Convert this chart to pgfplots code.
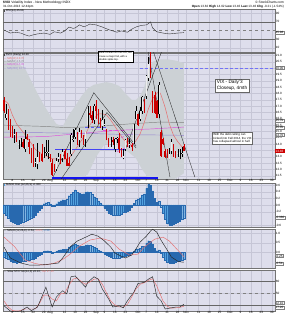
\documentclass[border=0pt]{standalone}
\usepackage{pgfplots}
\pgfplotsset{compat=1.18}
\usepackage{pgfplotstable}
\usepackage{fontspec}
\setmainfont{Liberation Sans}
\definecolor{bgc}{RGB}{222,222,236}
\definecolor{gridc}{RGB}{198,198,214}
\definecolor{bbc}{RGB}{204,209,213}
\definecolor{histc}{RGB}{82,162,222}
\definecolor{histd}{RGB}{40,105,175}
\definecolor{cred}{RGB}{204,0,0}
\definecolor{maR}{RGB}{230,110,110}
\definecolor{maG}{RGB}{130,130,130}
\definecolor{maM}{RGB}{220,80,220}
\definecolor{maV}{RGB}{150,130,210}
\definecolor{lblue}{RGB}{20,20,240}
\newcommand{\tf}{\fontsize{3.1}{3.5}\selectfont}
\newcommand{\lf}{\fontsize{2.8}{3.4}\selectfont}
\newcommand{\sq}[1]{\textcolor{#1}{\rule{1.7pt}{1.7pt}}}
\tikzset{bx/.style={draw=black!50, fill=white, inner sep=0.4pt, font=\tf, anchor=west}}

\pgfplotstableread{
i o h l c
0 17.5 17.7 16.5 16.6
2 16.6 16.8 15.1 15.2
3 15.5 16.0 14.6 14.9
4 15.2 15.4 14.5 15.0
6 14.8 15.0 14.2 14.5
9 14.2 14.4 13.7 13.8
11 14.6 14.8 14.3 14.4
12 14.2 14.4 13.2 13.8
13 13.6 13.7 12.5 12.5
14 13.2 14.0 12.2 12.3
17 13.2 13.4 12.6 12.9
18 13.2 14.0 12.6 12.7
22 13.0 13.2 12.6 12.9
23 12.5 12.8 11.5 11.6
24 12.2 12.4 11.8 11.9
27 12.8 13.2 12.4 12.7
29 13.5 13.6 12.8 12.8
30 12.8 13.3 12.3 12.3
31 12.5 13.0 12.3 12.3
35 14.9 15.0 13.9 14.0
37 15.1 15.1 14.5 14.8
38 14.5 14.7 13.9 14.0
41 16.5 17.0 16.1 16.3
42 16.3 16.6 15.7 15.9
44 17.0 17.5 16.0 16.6
45 16.7 16.8 15.6 15.9
46 15.7 16.1 15.3 15.4
49 15.1 15.2 14.3 14.5
50 14.4 14.5 13.8 14.0
52 14.3 14.6 13.9 14.2
55 14.5 14.9 13.3 13.6
56 13.4 13.7 13.0 13.1
59 14.2 14.5 13.8 14.1
61 13.9 14.1 13.5 13.8
64 16.4 16.4 15.4 15.5
67 17.4 17.6 16.5 16.7
70 20.5 21.3 19.2 19.6
71 18.0 18.2 16.5 16.6
72 17.9 18.1 16.4 16.5
73 17.4 17.5 16.1 16.1
75 15.0 15.1 13.0 13.1
76 14.4 14.5 13.9 14.0
77 13.5 13.6 12.9 13.0
78 13.3 13.6 12.9 13.2
81 13.9 14.0 13.0 13.2
82 13.2 13.5 12.9 13.1
86 13.82 14.02 13.46 13.46
}\dn

\pgfplotstableread{
i o h l c
1 16.1 17.2 15.9 16.4
5 14.7 15.2 14.1 14.8
7 13.9 14.3 13.6 14.0
8 14.0 14.5 13.8 14.4
10 13.6 15.1 13.4 14.4
15 12.5 12.9 12.2 12.6
16 12.4 14.1 12.0 13.0
19 13.0 13.8 12.9 13.4
20 13.3 14.3 13.1 13.4
21 13.3 14.3 12.8 13.4
25 12.0 12.9 11.9 12.7
26 12.8 13.3 12.6 13.0
28 12.9 13.6 12.6 13.4
32 13.2 14.9 13.1 14.7
33 14.3 15.2 14.2 14.4
34 14.6 15.3 14.4 15.1
36 14.3 15.3 13.8 15.0
39 14.4 15.0 13.8 15.0
40 15.5 17.0 15.3 16.8
43 15.9 17.2 15.6 17.0
47 15.4 16.7 15.1 15.9
48 15.5 16.0 15.4 15.6
51 14.0 14.6 13.8 14.3
53 13.6 14.5 13.4 14.4
54 14.4 14.6 14.1 14.5
57 12.9 13.6 12.8 13.1
58 13.6 14.4 13.5 14.3
60 13.9 14.4 13.7 14.0
62 14.1 15.6 14.0 15.5
63 16.0 17.0 16.0 16.6
65 16.0 16.9 15.8 16.6
66 16.6 17.8 16.4 17.7
68 17.8 19.5 17.6 19.4
69 19.2 20.9 19.0 20.3
74 16.4 18.9 16.1 18.7
79 12.8 13.7 12.8 13.2
80 13.5 14.4 13.2 14.2
83 13.2 13.6 13.0 13.3
84 13.1 13.6 12.8 13.4
85 13.2 13.8 13.0 13.3
}\up

\pgfplotstableread{
i v
0 -0.25
1 -0.30
2 -0.38
3 -0.48
4 -0.52
5 -0.55
6 -0.57
7 -0.56
8 -0.54
9 -0.50
10 -0.47
11 -0.45
12 -0.43
13 -0.38
14 -0.35
15 -0.30
16 -0.22
17 -0.15
18 -0.08
19 0.04
20 0.07
21 0.08
22 0.03
23 -0.04
24 -0.02
25 0.04
26 0.10
27 0.13
28 0.16
29 0.15
30 0.17
31 0.28
32 0.33
33 0.38
34 0.45
35 0.38
36 0.35
37 0.33
38 0.34
39 0.38
40 0.40
41 0.38
42 0.32
43 0.25
44 0.20
45 0.12
46 0.06
47 0.01
48 -0.08
49 -0.16
50 -0.24
51 -0.27
52 -0.30
53 -0.31
54 -0.30
55 -0.30
56 -0.27
57 -0.22
58 -0.20
59 -0.17
60 -0.14
61 -0.06
62 0.05
63 0.15
64 0.18
65 0.22
66 0.30
67 0.33
68 0.50
69 0.62
70 0.60
71 0.42
72 0.20
73 0.08
74 0.12
75 -0.05
76 -0.25
77 -0.42
78 -0.55
79 -0.60
80 -0.60
81 -0.58
82 -0.55
83 -0.50
84 -0.47
85 -0.42
86 -0.38
}\hist

\pgfplotsset{
  pnl/.style={
    scale only axis, width=272pt, xmin=-0.5, xmax=129.5,
    anchor=south west,
    axis background/.style={fill=bgc},
    axis line style={draw=black!55, line width=0.3pt},
    xtick={4,9,14,19,22,29,34,39,44,48,53,58,64,68,73,78,83,87,93,98,103,108,113,118,123,128},
    xticklabels={},
    xmajorgrids, ymajorgrids,
    grid style={draw=gridc, line width=0.3pt},
    major tick length=0pt,
    yticklabel pos=right,
    tick label style={font=\tf, inner sep=0.6pt},
    /pgf/number format/assume math mode=true,
  },
  xlab/.style={xticklabels={8,15,22,29,Aug,12,19,26,Sep,9,16,23,Oct,7,14,21,28,Nov,11,18,25,Dec,9,16,23,30}},
  cw/.style={draw=none, mark=none, forget plot, error bars/.cd, y dir=plus, y explicit, error mark=none},
}

\begin{document}
\begin{tikzpicture}

% header
\node[anchor=west, font=\fontsize{3.3}{3.8}\selectfont, inner sep=0] at (3pt,317.2pt) {\textbf{\$VIX} Volatility Index - New Methodology INDX};
\node[anchor=east, font=\fontsize{3.3}{3.8}\selectfont, inner sep=0] at (284pt,317.2pt) {\textcopyright\ StockCharts.com};
\node[anchor=west, font=\fontsize{3.1}{3.6}\selectfont, inner sep=0] at (3pt,313.2pt) {31-Oct-2013 12:44pm};
\node[anchor=east, font=\fontsize{3.1}{3.6}\selectfont, inner sep=0] at (284pt,313.2pt) {\textbf{Open} 13.82 \textbf{High} 14.02 \textbf{Low} 13.46 \textbf{Last} 13.46 \textbf{Chg} -0.21 (-1.54\%)};

% ---------- Panel 1: RSI ----------
\begin{axis}[pnl, at={(3pt,268pt)}, height=43pt, ymin=0, ymax=100, ytick={10,30,70,90}]
\addplot[black!60, line width=0.35pt] coordinates {(-0.5,70) (129.5,70)};
\addplot[black!60, line width=0.35pt] coordinates {(-0.5,30) (129.5,30)};
\addplot[black!50, dashed, line width=0.3pt] coordinates {(-0.5,50) (129.5,50)};
\addplot[black!80, line width=0.4pt] coordinates {
(0,51) (3,44) (5,46) (8,44) (10,40) (12,37) (14,40) (16,42) (19,44) (22,41) (24,47) (27,44) (29,49) (31,58) (33,55) (34,56) (36,63) (38,59) (39,60) (41,65) (44,63) (47,58) (50,52) (52,49) (54,46) (56,49) (59,46) (61,53) (63,58) (65,61) (66,62) (68,63) (69,66) (70,70) (71,56) (73,47) (76,44) (79,42) (81,43) (83,44) (86,45)};
\node[anchor=north west, font=\lf, inner sep=0.5pt] at (rel axis cs:0,1) {\sq{black!70} RSI(14) 45.98};
\coordinate (r1) at (axis cs:129.5,45.98);
\end{axis}
\node[bx] at (r1) {45.98};

% ---------- Panel 2: price ----------
\begin{axis}[pnl, xlab, at={(3pt,141pt)}, height=126pt, ymin=11.25, ymax=21.2,
  ytick={11.5,12,...,21}, yticklabel style={/pgf/number format/.cd, fixed, fixed zerofill, precision=1}]
% Bollinger band area (upper points left to right, lower points right to left)
\addplot[fill=bbc, draw=none, forget plot] coordinates {
(0,20.6) (5,20.5) (10,20.0) (13,19.0) (16,18.0) (19,17.1) (22,16.3) (25,15.6) (28,15.4) (31,16.3) (34,17.0) (37,17.8) (40,18.4) (43,18.7) (46,18.8) (49,18.9) (52,18.8) (55,18.6) (58,18.0) (61,17.5) (63,17.5) (65,17.8) (67,18.5) (69,19.9) (71,20.5) (74,20.7) (78,20.7) (82,20.6) (86,20.4)
(86,11.7) (82,11.3) (78,10.9) (74,10.9) (70,11.1) (66,12.0) (63,12.9) (60,13.3) (56,13.8) (52,14.1) (48,14.0) (44,13.0) (40,11.6) (35,11.3) (30,11.0) (20,11.0) (10,10.9) (0,11.0)} -- cycle;
% moving averages
\addplot[maG, line width=0.45pt] coordinates {(0,15.5) (10,15.45) (20,15.4) (30,15.3) (45,15.4) (60,15.6) (75,15.75) (86,15.7)};
\addplot[maV, line width=0.45pt] coordinates {(0,14.95) (20,14.9) (40,14.85) (60,14.75) (86,14.7)};
\addplot[maM, line width=0.45pt] coordinates {(0,14.55) (20,14.6) (40,14.9) (55,15.1) (70,15.2) (86,15.35)};
\addplot[maR, line width=0.5pt] coordinates {
(0,17.5) (2,17.2) (4,16.3) (6,15.6) (9,14.97) (11,14.55) (13,14.07) (15,13.58) (17,13.35) (19,13.14) (21,13.0) (23,12.86) (25,12.82) (27,12.8) (29,12.81) (31,12.9) (33,13.3) (35,13.8) (37,14.3) (39,14.8) (41,15.5) (43,16.0) (45,16.4) (47,16.4) (49,16.3) (51,15.9) (53,15.4) (55,14.9) (57,14.4) (59,14.1) (61,13.91) (63,14.26) (65,14.8) (67,15.7) (69,16.8) (71,17.6) (73,18.0) (74,18.2) (75,17.9) (77,16.9) (79,15.6) (81,14.7) (83,14.2) (85,13.8) (86,13.7)};
% drawn support / resistance lines
\addplot[lblue, line width=1.6pt] coordinates {(22.9,11.35) (73.6,11.35)};
\addplot[lblue!80, line width=0.6pt] coordinates {(24.5,13.6) (58,13.6)};
\addplot[lblue!70, dashed, line width=0.6pt] coordinates {(38.7,15.35) (48.5,15.35)};
\addplot[lblue!60, line width=0.7pt, dash pattern=on 3pt off 2pt] coordinates {(65,20.0) (129.5,20.0)};
\addplot[maM, dashed, line width=0.4pt] coordinates {(47.3,15.12) (58.3,15.12)};
\addplot[maM, dashed, line width=0.4pt] coordinates {(50.6,14.17) (61.6,14.88)};
\addplot[maM, dashed, line width=0.4pt] coordinates {(54,13.39) (62.6,14.09)};
% trend lines
\addplot[black!85, line width=0.35pt] coordinates {(23.4,11.4) (42.9,18.06) (63.1,13.86)};
\addplot[black!85, line width=0.35pt] coordinates {(26.3,11.0) (49.2,16.5) (63.1,13.7)};
\addplot[black!85, line width=0.35pt] coordinates {(57.8,13.5) (75.5,21.4)};
\addplot[black!85, line width=0.35pt] coordinates {(68.8,21.4) (79.3,11.4)};
\addplot[black!85, line width=0.35pt] coordinates {(71.2,21.4) (91.2,11.4)};
% candles: wicks
\addplot[cw, error bar style={draw=black, line width=0.35pt}] table[x=i, y=l, y error expr=\thisrow{h}-\thisrow{l}] {\up};
\addplot[cw, error bar style={draw=cred, line width=0.35pt}] table[x=i, y=l, y error expr=\thisrow{h}-\thisrow{l}] {\dn};
% candles: bodies
\addplot[cw, error bar style={draw=black, line width=1.4pt}] table[x=i, y expr={min(\thisrow{o},\thisrow{c})}, y error expr={abs(\thisrow{c}-\thisrow{o})}] {\up};
\addplot[cw, error bar style={draw=white!85!gray, line width=0.65pt}] table[x=i, y expr={min(\thisrow{o},\thisrow{c})}, y error expr={abs(\thisrow{c}-\thisrow{o})}] {\up};
\addplot[cw, error bar style={draw=cred, line width=1.4pt}] table[x=i, y expr={min(\thisrow{o},\thisrow{c})}, y error expr={abs(\thisrow{c}-\thisrow{o})}] {\dn};
% legend
\node[anchor=north west, font=\lf, inner sep=0.5pt, align=left] at (rel axis cs:0,1) {%
\sq{black!70} \$VIX (Daily) 13.46\\
\textcolor{maR}{--- MA(10) 13.70}\\
\textcolor{maG}{--- MA(50) 15.70}\\
\textcolor{maM}{--- MA(20) 15.35}\\
\textcolor{maV}{--- MA(200) 14.70}};
\coordinate (p20) at (axis cs:129.5,20.0);
\coordinate (pg) at (axis cs:129.5,15.85);
\coordinate (pm) at (axis cs:129.5,15.3);
\coordinate (pv) at (axis cs:129.5,14.72);
\coordinate (pc) at (axis cs:129.5,13.46);
\end{axis}
\node[bx] at (p20) {20.00};
\node[bx] at (pg) {15.70};
\node[bx] at (pm) {15.35};
\node[bx] at (pv) {14.70};
\node[bx, fill=cred, text=white, draw=cred] at (pc) {13.46};

% ---------- Panel 3: histogram ----------
\begin{axis}[pnl, at={(3pt,93pt)}, height=44pt, ymin=-0.66, ymax=0.66, ytick={-0.6,-0.2,0,0.2,0.4,0.6},
  yticklabel style={/pgf/number format/.cd, fixed, fixed zerofill, precision=1}]
\addplot[ybar, bar width=0.72, fill=histc, draw=histd, line width=0.12pt] table[x=i, y=v] {\hist};
\node[anchor=north west, font=\lf, inner sep=0.5pt] at (rel axis cs:0,1) {\sq{histc} MACD Hist (12,26,9) -0.380};
\coordinate (h1) at (axis cs:129.5,-0.38);
\end{axis}
\node[bx] at (h1) {-0.380};

% ---------- Panel 4: MACD ----------
\begin{axis}[pnl, at={(3pt,52pt)}, height=39pt, ymin=-0.86, ymax=1.25, ytick={0,0.5,1.0},
  yticklabel style={/pgf/number format/.cd, fixed, fixed zerofill, precision=1}]
\addplot[ybar, bar width=0.72, fill=histc, draw=histd, line width=0.12pt] table[x=i, y=v] {\hist};
\addplot[maR, line width=0.45pt] coordinates {
(0,0.81) (5,0.3) (10,-0.43) (15,-0.62) (19,-0.7) (24,-0.6) (28,-0.4) (31,-0.16) (36,0.32) (41,0.65) (46,0.76) (51,0.6) (55,0.16) (60,-0.16) (64,-0.11) (67,0.27) (72,0.7) (76,0.81) (79,0.6) (83,0.11) (86,-0.25)};
\addplot[black!85, line width=0.45pt] coordinates {
(0,0.27) (3,-0.32) (8,-0.59) (12,-0.7) (17,-0.7) (22,-0.65) (26,-0.59) (28,-0.32) (30,0) (32,0.32) (35,0.6) (37,0.7) (40,0.86) (42,0.97) (45,0.86) (48,0.6) (51,0.27) (53,-0.05) (56,-0.22) (58,-0.32) (61,-0.16) (63,0.16) (65,0.54) (68,0.86) (70,1.14) (71,1.24) (73,1.08) (75,0.65) (78,0.11) (80,-0.27) (83,-0.49) (85,-0.54) (86,-0.54)};
\node[anchor=north west, font=\lf, inner sep=0.5pt] at (rel axis cs:0,1) {\textcolor{black!80}{---} MACD(12,26,9) -0.54, \textcolor{maR}{-0.25}, \textcolor{histd}{-0.38}};
\coordinate (m1) at (axis cs:129.5,-0.22);
\coordinate (m2) at (axis cs:129.5,-0.62);
\end{axis}
\node[bx] at (m1) {-0.25};
\node[bx] at (m2) {-0.54};

% ---------- Panel 5: Stochastic ----------
\begin{axis}[pnl, xlab, at={(3pt,9pt)}, height=41pt, ymin=5, ymax=108, ytick={50,80}]
\addplot[black!60, line width=0.35pt] coordinates {(-0.5,80) (129.5,80)};
\addplot[black!60, line width=0.35pt] coordinates {(-0.5,20) (129.5,20)};
\addplot[black!50, dashed, line width=0.3pt] coordinates {(-0.5,50) (129.5,50)};
\addplot[maR, line width=0.45pt] coordinates {
(0,30) (2,15) (4,6) (7,5) (10,10) (12,10) (15,10) (17,25) (19,45) (21,45) (23,35) (25,30) (27,48) (29,50) (31,70) (33,85) (35,88) (37,78) (39,72) (41,78) (43,85) (45,86) (47,72) (49,50) (51,30) (53,20) (55,15) (57,15) (59,22) (61,40) (63,60) (65,72) (67,76) (69,82) (71,86) (73,68) (74,55) (76,30) (78,17) (80,12) (82,13) (84,14) (86,17)};
\addplot[black!85, line width=0.45pt] coordinates {
(0,18) (3,5) (5,3) (8,5) (11,15) (13,6) (16,15) (18,40) (20,65) (23,15) (25,40) (28,56) (30,48) (32,91) (34,93) (36,81) (39,65) (40,77) (43,91) (45,85) (47,60) (50,35) (52,15) (55,18) (57,13) (59,31) (62,52) (64,74) (67,77) (69,85) (71,91) (73,42) (75,31) (77,10) (79,12) (82,15) (84,15) (86,22)};
\node[anchor=north west, font=\lf, inner sep=0.5pt] at (rel axis cs:0,1) {\textcolor{black!80}{---} Slow STO \%K(14,3) 22.10, \textcolor{maR}{\%D 17.20}};
\coordinate (s1) at (axis cs:129.5,25);
\coordinate (s2) at (axis cs:129.5,13);
\end{axis}
\node[bx] at (s1) {22.10};
\node[bx] at (s2) {17.20};

% ---------- annotation boxes ----------
\node[draw=black, fill=white, line width=0.35pt, inner sep=1pt, align=left, font=\fontsize{2.55}{3.3}\selectfont] at (115.5pt,263.5pt)
  {Bears break into the 20s, but\\it was a major fail, with a\\double spike top.};
\node[draw=black!60, fill=white, line width=0.35pt, inner sep=1.6pt, align=left, font=\fontsize{4.7}{6.0}\selectfont] at (232pt,234.5pt)
  {VIX - Daily'3\\Closeup, 4mth};
\node[draw=black!60, fill=white, line width=0.35pt, inner sep=1pt, align=left, font=\fontsize{2.95}{3.7}\selectfont] at (232.5pt,181.5pt)
  {With the debt ceiling can\\kicked into Fall 2014, the VIX\\has collapsed almost in half.};

\pgfresetboundingbox
\useasboundingbox (0pt,0pt) rectangle (287pt,320pt);
\end{tikzpicture}
\end{document}
